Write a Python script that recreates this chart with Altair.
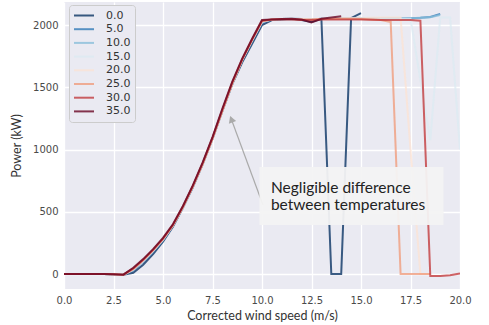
import altair as alt
import pandas as pd

ws = [0.0, 0.5, 1.0, 1.5, 2.0, 2.5, 3.0, 3.5, 4.0, 4.5, 5.0, 5.5, 6.0, 6.5, 7.0, 7.5,
      8.0, 8.5, 9.0, 9.5, 10.0, 10.5, 11.0, 11.5, 12.0, 12.5, 13.0, 13.5, 14.0, 14.5,
      15.0, 15.5, 16.0, 16.5, 17.0, 17.5, 18.0, 18.5, 19.0, 19.5, 20.0]

temps = ["0.0", "5.0", "10.0", "15.0", "20.0", "25.0", "30.0", "35.0"]
colors = ["#053061", "#2f79b6", "#87beda", "#dceaf2", "#fbe3d5", "#f09b7b", "#c1373a", "#67001f"]

p_00 = [0, 0, 0, 0, 0, -2, -5, 10, 75, 160, 260, 380, 530, 695, 880, 1085, 1310, 1525, 1700, 1850,
        2000, 2040, 2045, 2048, 2040, 2025, 2050, 0, 0, 2055, 2095]
p_05 = [0, 0, 0, 0, 0, -2, -5, 30, 100, 180, 270, 385, 535, 700, 885, 1090, 1315, 1530, 1715, 1870,
        2020, 2045, 2048, 2050, 2048, 2045, 2050, 2052, 2052, 2052, 2052, 2052, 2052, 2055, 2055,
        2055, 2058, 2065, 2090]
p_10 = [0, 0, 0, 0, 0, -2, -5, 35, 105, 185, 275, 390, 535, 700, 885, 1090, 1315, 1530, 1720, 1875,
        2025, 2045, 2048, 2050, 2048, 2045, 2050, 2052, 2052, 2052, 2052, 2052, 2052, 2055, 2055,
        2055, 2058, 2062, 2080]
p_15 = [0, 0, 0, 0, 0, -2, -5, 35, 105, 185, 275, 390, 535, 700, 885, 1090, 1315, 1530, 1720, 1875,
        2025, 2045, 2048, 2050, 2048, 2045, 2050, 2052, 2052, 2052, 2052, 2052, 2052, 2052, 2052,
        2050, 1560, 1076, 2060, 2060, 1000]
p_20 = [0, 0, 0, 0, 0, -2, -5, 40, 110, 190, 280, 390, 535, 700, 885, 1090, 1315, 1535, 1720, 1880,
        2030, 2045, 2048, 2050, 2048, 2045, 2050, 2052, 2055, 2055, 2055, 2058, 2060, 2060, 2060,
        1000, 0, 0]
p_25 = [0, 0, 0, 0, 0, -2, -5, 40, 110, 190, 280, 390, 535, 700, 880, 1085, 1310, 1530, 1720, 1880,
        2030, 2045, 2048, 2048, 2045, 2045, 2048, 2050, 2050, 2050, 2048, 2045, 2040, 2025, 0,
        0, 0, 0]
p_30 = [0, 0, 0, 0, 0, -2, -5, 45, 115, 195, 285, 395, 540, 705, 890, 1095, 1320, 1540, 1725, 1885,
        2035, 2045, 2045, 2045, 2040, 2040, 2045, 2045, 2045, 2045, 2045, 2042, 2040, 2040, 2040,
        2040, 2035, -15, -15, -10, 5]
p_35 = [0, 0, 0, 0, 0, -2, -5, 50, 120, 200, 290, 400, 545, 710, 895, 1100, 1330, 1545, 1730, 1890,
        2040, 2045, 2048, 2050, 2045, 2020, 2050, 2060, 2070]

series = [p_00, p_05, p_10, p_15, p_20, p_25, p_30, p_35]

rows = []
for t, vals in zip(temps, series):
    for w, p in zip(ws, vals):
        rows.append({"ws": w, "power": p, "temp": t})
df = pd.DataFrame(rows)

note_lines = ["Negligible difference", "between temperatures"]

x_scale = alt.Scale(domain=[0, 20], nice=False, zero=False)
y_scale = alt.Scale(domain=[-120, 2185], nice=False, zero=False)

lines = alt.Chart(df).mark_line(strokeWidth=2, opacity=0.78, clip=True).encode(
    x=alt.X("ws:Q", scale=x_scale,
            axis=alt.Axis(title="Corrected wind speed (m/s)", values=[0, 2.5, 5, 7.5, 10, 12.5, 15, 17.5, 20],
                          format=".1f", labelFlush=False)),
    y=alt.Y("power:Q", scale=y_scale,
            axis=alt.Axis(title="Power (kW)", values=[0, 500, 1000, 1500, 2000], format="d")),
    color=alt.Color("temp:N", sort=temps, scale=alt.Scale(domain=temps, range=colors),
                    legend=alt.Legend(orient="none", legendX=5, legendY=3, title=None,
                                      symbolType="stroke", symbolSize=400, symbolStrokeWidth=2,
                                      symbolOpacity=0.78, clipHeight=13,
                                      labelFontSize=11, labelColor="#333333", labelFont="DejaVu Sans",
                                      fillColor="#eaeaf2", strokeColor="#cccccc", padding=4,
                                      rowPadding=0.7, cornerRadius=3, labelOffset=11)),
    order=alt.Order("ws:Q"),
)

arrow_df = pd.DataFrame({"x": [10.05, 8.41], "y": [554, 1261]})
arrow_line = alt.Chart(arrow_df).mark_line(color="#aaaaaa", strokeWidth=1.2).encode(
    x=alt.X("x:Q", scale=x_scale), y=alt.Y("y:Q", scale=y_scale))
arrow_head = alt.Chart(pd.DataFrame({"x": [8.47], "y": [1235]})).mark_point(
    shape="triangle", filled=True, color="#aaaaaa", opacity=1, size=60, angle=339).encode(
    x=alt.X("x:Q", scale=x_scale), y=alt.Y("y:Q", scale=y_scale))

box = alt.Chart(pd.DataFrame({"x": [9.87], "x2": [19.17], "y": [859], "y2": [394]})).mark_rect(
    fill="#f3f3f3", opacity=0.95).encode(
    x=alt.X("x:Q", scale=x_scale), x2="x2:Q", y=alt.Y("y:Q", scale=y_scale), y2="y2:Q")

note = alt.Chart(pd.DataFrame({"x": [10.45, 10.45], "y": [655, 515], "t": note_lines})).mark_text(
    align="left", baseline="alphabetic", font="Lato", fontSize=15.5, color="#222222").encode(
    x=alt.X("x:Q", scale=x_scale), y=alt.Y("y:Q", scale=y_scale), text="t:N")

chart = alt.layer(lines, arrow_line, arrow_head, box, note).properties(
    width=396, height=287,
    autosize=alt.AutoSizeParams(type="none"),
    padding={"left": 64, "top": 2, "right": 29, "bottom": 36},
    background="white",
).configure_view(
    fill="#eaeaf2", stroke=None
).configure_axis(
    grid=True, gridColor="white", gridWidth=1.3, domain=False, ticks=False,
    labelFont="DejaVu Sans", labelFontSize=10, labelColor="#4a4a4a",
    titleFont="Lato", titleFontSize=12.5, titleColor="#333333", titleFontWeight="normal",
    labelPadding=6,
).configure_axisY(
    titlePadding=9,
).configure_axisX(
    titlePadding=4,
)

chart.save("out.html", embed_options={"renderer": "svg", "actions": False})
